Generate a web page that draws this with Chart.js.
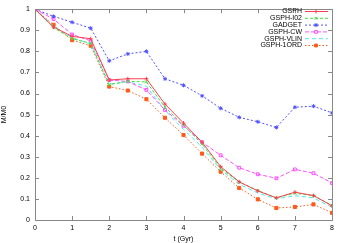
<!DOCTYPE html>
<html>
<head>
<meta charset="utf-8">
<script src="https://cdn.jsdelivr.net/npm/chart.js@4"></script>
<style>
  body { margin: 0; background: #fff; }
  #c { display: block; }
</style>
</head>
<body>
<canvas id="c" width="338" height="243"></canvas>
<script>
const times = [0, 0.5, 1, 1.5, 2, 2.5, 3, 3.5, 4, 4.5, 5, 5.5, 6, 6.5, 7, 7.5, 8];
const gsph    = [1, 0.915, 0.871, 0.86, 0.664, 0.67, 0.67, 0.55, 0.46, 0.369, 0.253, 0.181, 0.138, 0.105, 0.132, 0.116, 0.067];
const gsphI02 = [1, 0.912, 0.86, 0.838, 0.642, 0.658, 0.655, 0.535, 0.45, 0.36, 0.245, 0.18, 0.14, 0.105, 0.127, 0.115, 0.07];
const gadget  = [1, 0.966, 0.938, 0.91, 0.755, 0.788, 0.80, 0.67, 0.639, 0.589, 0.53, 0.487, 0.466, 0.439, 0.535, 0.54, 0.508];
const gsphCW  = [1, 0.953, 0.88, 0.85, 0.664, 0.657, 0.617, 0.522, 0.447, 0.369, 0.307, 0.248, 0.217, 0.198, 0.24, 0.222, 0.175];
const gsphVLIN = [1, 0.92, 0.865, 0.835, 0.645, 0.655, 0.635, 0.52, 0.43, 0.345, 0.238, 0.17, 0.128, 0.1, 0.115, 0.105, 0.06];
const gsph1ORD = [1, 0.926, 0.853, 0.827, 0.633, 0.614, 0.573, 0.485, 0.403, 0.315, 0.229, 0.152, 0.098, 0.057, 0.062, 0.074, 0.034];
const xTicks = [0, 1, 2, 3, 4, 5, 6, 7, 8];
const yTicks = [0, 0.1, 0.2, 0.3, 0.4, 0.5, 0.6, 0.7, 0.8, 0.9, 1];

const FONT = "'Liberation Sans', Arial, sans-serif";

function pts(values) {
    return values.map((v, i) => ({x: times[i], y: v}));
}

const series = [
    {label: "GSPH", data: gsph, color: "#f84050", dash: [], point: "cross", fill: false},
    {label: "GSPH-I02", data: gsphI02, color: "#40e040", dash: [3, 2], point: "crossRot", fill: false},
    {label: "GADGET", data: gadget, color: "#5050ff", dash: [2, 2], point: "star", fill: false},
    {label: "GSPH-CW", data: gsphCW, color: "#ff50ff", dash: [4, 2], point: "rect", fill: false},
    {label: "GSPH-VLIN", data: gsphVLIN, color: "#50e8e8", dash: [4, 3], point: false, fill: false},
    {label: "GSPH-1ORD", data: gsph1ORD, color: "#ff5a1a", dash: [1.5, 2], point: "rect", fill: true}
];

// gnuplot style frame: full box, inward ticks, legend in the top right
const framePlugin = {
    id: "frame",
    afterDraw(chart) {
        const {ctx, chartArea: a, scales} = chart;
        ctx.save();
        ctx.strokeStyle = "#888";
        ctx.lineWidth = 1;
        ctx.strokeRect(Math.round(a.left) + 0.5, Math.round(a.top) + 0.5,
            Math.round(a.right - a.left), Math.round(a.bottom - a.top));
        ctx.beginPath();
        xTicks.forEach(t => {
            const x = Math.round(scales.x.getPixelForValue(t)) + 0.5;
            ctx.moveTo(x, a.bottom); ctx.lineTo(x, a.bottom - 4);
            ctx.moveTo(x, a.top); ctx.lineTo(x, a.top + 4);
        });
        yTicks.forEach(t => {
            const y = Math.round(scales.y.getPixelForValue(t)) + 0.5;
            ctx.moveTo(a.left, y); ctx.lineTo(a.left + 4, y);
            ctx.moveTo(a.right, y); ctx.lineTo(a.right - 4, y);
        });
        ctx.stroke();

        // legend
        ctx.font = "7px " + FONT;
        ctx.textAlign = "right";
        ctx.textBaseline = "middle";
        series.forEach((s, i) => {
            const y = 11.5 + i * 6.8;
            ctx.fillStyle = "#000";
            ctx.fillText(s.label, 302, y);
            ctx.strokeStyle = s.color;
            ctx.setLineDash(s.dash);
            ctx.beginPath();
            ctx.moveTo(305, y); ctx.lineTo(328, y);
            ctx.stroke();
            ctx.setLineDash([]);
            if (s.point) {
                ctx.fillStyle = s.fill ? s.color : "rgba(0,0,0,0)";
                Chart.helpers.drawPoint(ctx, {pointStyle: s.point, radius: 2, rotation: 0, borderWidth: 1},
                    316, y);
            }
        });
        ctx.restore();
    }
};

new Chart(document.getElementById("c"), {
    type: "line",
    data: {
        datasets: series.map(s => ({
            label: s.label,
            data: pts(s.data),
            borderColor: s.color,
            backgroundColor: s.fill ? s.color : "rgba(0,0,0,0)",
            borderWidth: 1,
            borderDash: s.dash,
            pointStyle: s.point,
            pointRadius: s.point ? (s.fill ? 2.2 : 2) : 0,
            pointBorderWidth: 1,
            pointBorderColor: s.color,
            pointBackgroundColor: s.fill ? s.color : "rgba(0,0,0,0)",
            tension: 0
        }))
    },
    options: {
        responsive: false,
        animation: false,
        devicePixelRatio: 1,
        layout: {padding: {top: 5, right: 5, left: 0, bottom: 0}},
        plugins: {legend: {display: false}, tooltip: {enabled: false}},
        scales: {
            x: {
                type: "linear",
                min: 0, max: 8,
                afterBuildTicks(scale) { scale.ticks = xTicks.map(v => ({value: v})); },
                afterFit(scale) { scale.height = 23; },
                grid: {display: false, drawTicks: false},
                border: {display: false},
                ticks: {font: {size: 7, family: FONT}, color: "#000", padding: 4, maxRotation: 0},
                title: {display: true, text: "t (Gyr)", font: {size: 7, family: FONT}, color: "#000", padding: {top: 1, bottom: 0}}
            },
            y: {
                min: 0, max: 1,
                afterBuildTicks(scale) { scale.ticks = yTicks.map(v => ({value: v})); },
                afterFit(scale) { scale.width = 35; },
                grid: {display: false, drawTicks: false},
                border: {display: false},
                ticks: {font: {size: 7, family: FONT}, color: "#000", padding: 5,
                    callback: v => String(Math.round(v * 10) / 10)},
                title: {display: true, text: "M/M0", font: {size: 7, family: FONT}, color: "#000", padding: {top: 0, bottom: 2}}
            }
        }
    },
    plugins: [framePlugin]
});
</script>
</body>
</html>
